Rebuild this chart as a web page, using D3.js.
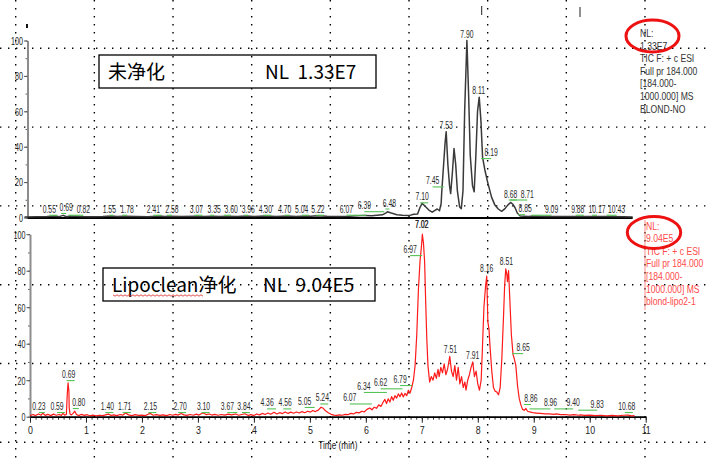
<!DOCTYPE html>
<html><head><meta charset="utf-8">
<script src="https://cdn.jsdelivr.net/npm/d3@7/dist/d3.min.js"></script>
<style>body{margin:0;background:#fff}svg{display:block}</style>
</head><body>
<script>
// ---------------- DATA ----------------
// Upper trace (未净化), relative abundance (%) vs time (min)
const topTime = [0.0,0.2,0.4,0.55,0.62,0.69,0.75,0.82,1.0,1.2,1.4,1.55,1.65,1.78,2.0,2.2,2.41,2.5,2.58,2.8,3.07,3.2,3.35,3.5,3.6,3.8,3.96,4.1,4.3,4.5,4.7,4.85,5.04,5.12,5.22,5.4,5.6,5.8,6.07,6.2,6.39,6.45,6.48,6.55,6.65,6.75,6.88,6.95,7.02,7.06,7.10,7.15,7.22,7.28,7.33,7.37,7.41,7.44,7.45,7.48,7.51,7.53,7.56,7.59,7.61,7.64,7.67,7.70,7.73,7.77,7.80,7.83,7.86,7.90,7.93,7.96,8.00,8.03,8.06,8.09,8.12,8.15,8.18,8.22,8.27,8.34,8.40,8.46,8.52,8.58,8.63,8.68,8.72,8.76,8.80,8.85,9.0,9.09,9.3,9.6,9.88,10.17,10.43,10.7,10.86];
const topSignal = [0.3,0.4,0.5,0.9,0.5,1.2,0.4,0.8,0.5,0.4,0.5,0.8,0.5,0.7,0.5,0.4,0.8,0.5,0.7,0.5,0.7,0.5,0.7,0.5,0.7,0.5,0.8,0.6,0.8,0.6,0.8,0.6,0.9,0.7,1.0,0.7,0.6,0.7,1.2,1.0,1.5,2.5,3.2,2.5,1.6,1.3,1.2,1.8,2.0,5.5,8.0,6.5,4.2,3.0,4.0,4.8,3.8,8,14,28,42,48.5,30,18,13.5,25,39,30,15,6,5,15,60,100,70,35,18,14.5,35,60,68,55,34,27,20,11.5,7,4.8,3.5,5,7,8.5,7.5,5.5,2.5,0.9,0.6,0.8,0.5,0.5,0.6,0.6,0.6,0.4,0.3];

// Lower trace (Lipoclean净化)
const botTime = [0.00,0.05,0.10,0.15,0.20,0.23,0.27,0.32,0.37,0.42,0.47,0.52,0.56,0.59,0.62,0.65,0.665,0.68,0.695,0.70,0.715,0.74,0.77,0.80,0.83,0.87,0.92,0.97,1.02,1.07,1.12,1.18,1.24,1.30,1.35,1.40,1.45,1.50,1.55,1.61,1.66,1.71,1.76,1.82,1.88,1.94,2.00,2.06,2.10,2.15,2.20,2.26,2.32,2.38,2.44,2.50,2.55,2.60,2.65,2.70,2.75,2.80,2.86,2.92,2.97,3.02,3.06,3.10,3.15,3.20,3.25,3.30,3.36,3.42,3.48,3.54,3.60,3.67,3.73,3.78,3.84,3.90,3.95,4.00,4.05,4.10,4.15,4.20,4.25,4.30,4.36,4.41,4.46,4.51,4.56,4.61,4.66,4.71,4.76,4.81,4.86,4.91,4.96,5.01,5.05,5.10,5.15,5.20,5.24,5.28,5.33,5.38,5.43,5.48,5.53,5.58,5.63,5.68,5.73,5.78,5.83,5.88,5.93,5.97,6.02,6.07,6.11,6.15,6.19,6.23,6.27,6.31,6.34,6.37,6.40,6.43,6.46,6.49,6.52,6.55,6.58,6.61,6.64,6.67,6.70,6.73,6.76,6.79,6.82,6.85,6.88,6.91,6.94,6.97,6.99,7.01,7.03,7.05,7.07,7.09,7.11,7.14,7.17,7.20,7.23,7.26,7.29,7.31,7.34,7.37,7.40,7.43,7.46,7.50,7.53,7.56,7.59,7.62,7.65,7.68,7.71,7.74,7.77,7.79,7.82,7.85,7.88,7.91,7.94,7.97,8.00,8.03,8.06,8.08,8.11,8.14,8.16,8.17,8.18,8.20,8.22,8.25,8.28,8.31,8.34,8.37,8.40,8.43,8.46,8.48,8.50,8.52,8.53,8.55,8.57,8.60,8.63,8.65,8.68,8.71,8.74,8.77,8.80,8.83,8.86,8.89,8.93,8.98,9.05,9.12,9.20,9.28,9.36,9.40,9.48,9.56,9.64,9.72,9.80,9.83,9.90,10.00,10.10,10.20,10.30,10.40,10.50,10.60,10.68,10.75,10.80];
const botSignal = [0.5,1.2,0.6,1.5,0.8,2.0,0.7,1.3,0.6,1.4,0.8,1.2,0.7,1.8,0.9,1.2,12,18.6,14,5,1.5,1.0,1.8,3.0,1.2,0.6,1.3,0.7,1.1,0.5,0.9,0.5,0.8,0.6,1.0,1.4,0.7,1.0,0.6,1.2,0.9,2.0,1.0,0.6,1.1,0.7,0.9,0.6,1.2,1.8,0.8,1.1,0.7,1.0,0.6,1.2,0.8,1.3,0.9,1.8,1.0,0.7,1.2,0.8,1.4,0.9,1.6,2.0,1.1,1.5,0.9,1.3,0.8,1.2,0.9,1.4,1.0,1.5,0.8,1.2,1.6,0.7,1.1,0.6,1.5,1.0,1.8,1.2,2.0,1.3,2.4,1.5,2.2,1.7,2.6,1.8,2.5,1.9,2.6,2.0,2.8,2.2,3.0,2.5,3.4,2.8,3.6,5.2,4.6,3.2,2.2,1.3,0.9,0.7,1.0,0.8,1.3,1.1,1.8,1.5,2.4,2.1,3.0,2.6,4.0,4.8,3.8,5.2,4.6,6.5,5.6,8.0,9.5,7.2,9.8,8.0,11.0,9.0,11.5,10.2,12.5,11.0,13.0,10.8,12.8,11.5,14.5,13.0,16.0,20,28,45,70,86,92,100,95,85,62,42,28,19,22,20,24,21,26,22,27,24,29,23,26,33,25,22,28,20,27,18,22,16,19,14.5,20,23,27,30,22,25,18,14.5,20,35,60,72,77,65,52,48,38,25,16,14,13.5,12,16,32,55,72,81,78,74,80,66,45,34,32,28,17,10,6.5,4,3.5,4.5,3.0,2.6,2.2,2.0,1.8,1.5,1.6,1.3,1.5,1.1,1.2,0.9,1.1,0.8,1.0,0.7,0.9,0.6,0.8,0.5,0.7,0.5,0.8,0.9,0.5,0.6];

// Peak labels: retention times and the level (%) at which each label sits
const topPeaks = ["0.55","0.69","0.82","1.55","1.78","2.41","2.58","3.07","3.35","3.60","3.96","4.30","4.70","5.04","5.22","6.07","6.39","6.48","7.10","7.02","7.45","7.53","7.90","8.11","8.19","8.68","8.71","8.85","9.09","9.88","10.17","10.43"];
const topPeakLevels = [1,2,1,1,1,1,1,1,1,1,1,1,1,1,1,1,3,4.5,8,-7.5,17,48.5,100,68,33,9.6,9.6,1.3,1,1,1,1];
const botPeaks = ["0.23","0.59","0.69","0.80","1.40","1.71","2.15","2.70","3.10","3.67","3.84","4.36","4.56","5.05","5.24","6.07","6.34","6.62","6.79","6.97","7.02","7.51","7.91","8.16","8.51","8.65","8.86","8.96","9.40","9.83","10.68"];
const botPeakLevels = [2,2,19.5,4.2,2,2,2,2,2,2,2,4,4,4.8,6.7,6.7,13,15,16.8,88,101.5,33,30,77.5,81.4,34.3,6.4,4,4,3.3,2];

// Tick labels and annotation texts
const yTicks = [0,20,40,60,80,100];
const xTicks = [0,1,2,3,4,5,6,7,8,9,10,11];
const topInfo = ["NL:","1.33E7","TIC F: + c ESI","Full pr 184.000","[184.000-","1000.000] MS","BLOND-NO"];
const botInfo = ["NL:","9.04E5","TIC F: + c ESI","Full pr 184.000","[184.000-","1000.000] MS","blond-lipo2-1"];
const topBox = ["未净化","NL  1.33E7"];
const botBox = ["Lipoclean净化","NL  9.04E5"];
const xTitle = "Time (min)";

// ---------------- LAYOUT (label nudges in px, not data) ----------------
const topShift = [-6,3,13,-2,3,-6,3,0,2,5,2,0,-3,-5,1,-18,-18,2,0,4,-9,0,0,0,8,0,15,5,18,0,3,8];
const botShift = [-4,-6,0,4,-1,-1,0,-1,0,-8,-1,-7,0,-8,-1,-20,-21,-20,-10,-10,-1,0,0,0,0,9,5,19,17,17,-1];

// ---------------- DRAW ----------------
const W = 706, H = 458;
const svg = d3.select("body").append("svg").attr("width", W).attr("height", H);
svg.append("rect").attr("width", W).attr("height", H).attr("fill", "#fff");
const FONT = "'Liberation Sans', Arial, sans-serif";

const xTop = d3.scaleLinear().domain([0, 11]).range([24.5, 24.5 + 56 * 11]);
const yTop = d3.scaleLinear().domain([0, 100]).range([217.5, 40.5]);
const xBot = d3.scaleLinear().domain([0, 11]).range([30, 645.7]);
const yBot = d3.scaleLinear().domain([0, 100]).range([416.7, 234.2]);

// dotted page grid
const grid = svg.append("g").attr("stroke", "#000").attr("stroke-width", 1.4).attr("stroke-dasharray", "1.4,6.6");
d3.range(9).forEach(k => {
  const x = 15.7 + 78.66 * k;
  grid.append("line").attr("x1", x).attr("x2", x).attr("y1", 0).attr("y2", H);
});
d3.range(6).forEach(k => {
  const y = 48.3 + 78.8 * k;
  grid.append("line").attr("x1", 0).attr("x2", W).attr("y1", y).attr("y2", y);
});

// stray marks at the top of the page
[[481.7, 6, 15], [580, 7, 17]].forEach(m => svg.append("line").attr("x1", m[0]).attr("x2", m[0]).attr("y1", m[1]).attr("y2", m[2]).attr("stroke", "#222").attr("stroke-width", 1));
svg.append("line").attr("x1", 27).attr("x2", 27).attr("y1", 24).attr("y2", 28).attr("stroke", "#111").attr("stroke-width", 2);

function yAxis(scale, x0) {
  const g = svg.append("g").attr("transform", `translate(${x0},0)`);
  g.call(d3.axisLeft(scale).tickValues(d3.range(0, 101, 10)).tickSize(2).tickSizeOuter(0).tickFormat(() => ""));
  g.selectAll(".tick line").attr("stroke", "#666");
  g.selectAll("text").remove();
  g.select(".domain").attr("stroke", "none");
  const g2 = svg.append("g").attr("transform", `translate(${x0},0)`);
  g2.call(d3.axisLeft(scale).tickValues(yTicks).tickSize(3.5).tickSizeOuter(0));
  g2.select(".domain").attr("stroke", "#8c8c8c").attr("stroke-width", 2);
  g2.selectAll(".tick line").attr("stroke", "#555");
  g2.selectAll("text").attr("x", null).attr("dy", "0.35em")
    .attr("transform", "translate(-4.5,0) scale(0.65,1)")
    .attr("font-family", FONT).attr("font-size", 11).attr("fill", "#222");
}

function trace(time, sig, xs, ys, color, width) {
  const line = d3.line().x(d => xs(d[0])).y(d => ys(d[1]));
  svg.append("path").datum(time.map((t, i) => [t, sig[i]]))
    .attr("d", line).attr("fill", "none").attr("stroke", color)
    .attr("stroke-width", width).attr("stroke-linejoin", "round");
}

function peakLabels(peaks, levels, shifts, xs, ys) {
  const g = svg.append("g");
  peaks.forEach((p, i) => {
    const t = +p, px = xs(t), lx = px + shifts[i], by = ys(levels[i]) - 3;
    if (levels[i] >= 0 && (levels[i] < 20 || Math.abs(shifts[i]) >= 3)) {
      let a, b;
      if (shifts[i] < -1) { a = lx; b = px + 2; }
      else if (shifts[i] > 1) { a = px - 2; b = lx; }
      else { a = lx - 2; b = lx + 6; }
      g.append("line").attr("x1", a).attr("x2", b).attr("y1", by + 2.5).attr("y2", by + 2.5)
        .attr("stroke", "#55c255").attr("stroke-width", 1.1);
    }
    g.append("text").text(p).attr("transform", `translate(${lx},${by}) scale(0.62,1)`)
      .attr("text-anchor", "middle").attr("font-family", FONT).attr("font-size", 11).attr("fill", "#2a2a2a");
  });
}

// ---- upper panel ----
yAxis(yTop, 27.5);
svg.append("line").attr("x1", 27.5).attr("x2", xTop(topTime[topTime.length - 1]))
  .attr("y1", yTop(0) + 0.5).attr("y2", yTop(0) + 0.5).attr("stroke", "#000").attr("stroke-width", 2);
trace(topTime, topSignal, xTop, yTop, "#3a3a3a", 1.5);
peakLabels(topPeaks, topPeakLevels, topShift, xTop, yTop);

// ---- lower panel ----
yAxis(yBot, 30);
const gx = svg.append("g").attr("transform", `translate(0,${yBot(0)})`);
gx.call(d3.axisBottom(xBot).tickValues(d3.range(0, 110.5, 1).map(v => v / 10)).tickSize(3).tickSizeOuter(0).tickFormat(() => ""));
gx.selectAll("text").remove();
gx.selectAll(".tick line").attr("stroke", "#333");
gx.select(".domain").attr("stroke", "none");
const gx2 = svg.append("g").attr("transform", `translate(0,${yBot(0)})`);
gx2.call(d3.axisBottom(xBot).tickValues(xTicks).tickSize(6).tickSizeOuter(0));
gx2.select(".domain").attr("stroke", "#000").attr("stroke-width", 1.8);
gx2.selectAll(".tick line").attr("stroke", "#222");
gx2.selectAll("text").attr("y", null).attr("dy", null)
  .attr("transform", "translate(0,17.3) scale(0.8,1)")
  .attr("font-family", FONT).attr("font-size", 11).attr("fill", "#222");
svg.append("text").text(xTitle).attr("transform", `translate(${xBot(5.5)},449) scale(0.75,1)`)
  .attr("text-anchor", "middle").attr("font-family", FONT).attr("font-size", 11).attr("fill", "#222");
trace(botTime, botSignal, xBot, yBot, "#ff1a1a", 1.2);
peakLabels(botPeaks, botPeakLevels, botShift, xBot, yBot);

// ---- annotation boxes ----
const CJK = "'Noto Sans CJK SC', 'Noto Sans', sans-serif";
function box(x, y, w, h, texts, tx, baseline) {
  svg.append("rect").attr("x", x).attr("y", y).attr("width", w).attr("height", h)
    .attr("fill", "none").attr("stroke", "#000").attr("stroke-width", 1.3);
  texts.forEach((t, i) => svg.append("text").text(t).attr("x", tx[i]).attr("y", baseline)
    .style("white-space", "pre")
    .attr("font-family", CJK).attr("font-size", 19).attr("fill", "#000"));
}
box(99, 55, 277, 33, topBox, [108, 265], 79);
box(103, 268, 272, 33, botBox, [112, 263], 292);
// red spell-check squiggle under "Lipoclean"
const sq = d3.range(0, 92, 2).map((d, i) => [113 + d, 295 + (i % 2 ? 1.2 : -0.2)]);
svg.append("path").attr("d", d3.line()(sq)).attr("fill", "none").attr("stroke", "#e02020").attr("stroke-width", 0.8);

// ---- info text blocks ----
function info(lines, x, y0, color) {
  lines.forEach((t, i) => svg.append("text").text(t)
    .attr("transform", `translate(${x},${y0 + i * 12.6}) scale(0.82,1)`)
    .attr("font-family", FONT).attr("font-size", 10.5).attr("fill", color));
}
info(topInfo, 640, 37, "#333");
info(botInfo, 646, 229.5, "#ff4a4a");
svg.append("line").attr("x1", 645).attr("x2", 645).attr("y1", 220).attr("y2", 310).attr("stroke", "#ff6a6a").attr("stroke-width", 0.8);

// red ellipses
svg.append("ellipse").attr("cx", 652.5).attr("cy", 36).attr("rx", 26.5).attr("ry", 16)
  .attr("fill", "none").attr("stroke", "#ee1111").attr("stroke-width", 3);
svg.append("ellipse").attr("cx", 654).attr("cy", 232.5).attr("rx", 26.7).attr("ry", 16)
  .attr("fill", "none").attr("stroke", "#ee1111").attr("stroke-width", 3);
</script>
</body></html>
